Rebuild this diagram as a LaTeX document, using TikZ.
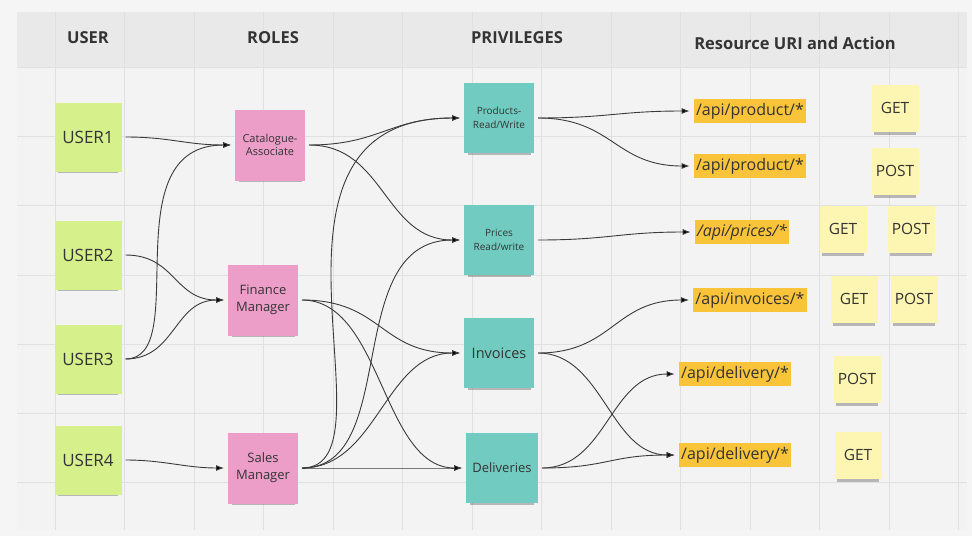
\documentclass[tikz,border=0pt]{standalone}
\usepackage{xcolor}
\usepackage{fontspec}
\setmainfont{Open Sans}
\usetikzlibrary{positioning,arrows.meta,shadows}

\definecolor{board}{HTML}{F3F3F3}
\definecolor{headband}{HTML}{E9E9E9}
\definecolor{gridgray}{HTML}{E0E0E0}
\definecolor{lime}{HTML}{D6F08C}
\definecolor{rose}{HTML}{EC9DC8}
\definecolor{tealnote}{HTML}{72CBC0}
\definecolor{amber}{HTML}{F9C33A}
\definecolor{paleyel}{HTML}{FDF5B2}
\definecolor{ink}{HTML}{343434}
\definecolor{wire}{HTML}{3A3A3A}

\tikzset{
  note/.style={inner sep=2pt, align=center, text=ink, outer sep=4pt,
    drop shadow={shadow xshift=0pt, shadow yshift=-6pt, shadow scale=0.9, opacity=0.25, fill=black}},
  user/.style={note, fill=lime, minimum width=67pt, minimum height=69pt, font=\fontsize{17}{19}\selectfont},
  role/.style={note, fill=rose, minimum width=70pt, minimum height=71pt},
  priv/.style={note, fill=tealnote, minimum width=70pt, minimum height=70pt},
  verb/.style={note, fill=paleyel, minimum width=47pt, minimum height=47pt, font=\fontsize{15.5}{17}\selectfont},
  uri/.style={fill=amber, inner xsep=2.5pt, inner ysep=4pt, outer sep=4pt, text=ink, font=\fontsize{16}{18}\selectfont},
  head/.style={text=ink, font=\bfseries\fontsize{16.5}{18}\selectfont},
  link/.style={draw=wire, line width=0.9pt, -{Latex[length=8pt,width=6pt]}, out=0, in=180},
}

\begin{document}
\begin{tikzpicture}[x=1pt, y=-1pt]
  \useasboundingbox (0,0) rectangle (972,536);
  % board and grid
  \fill[white!96!black] (0,0) rectangle (972,536);
  \fill[board] (17,12) rectangle (967,530);
  \fill[headband] (17,12) rectangle (967,67);
  \foreach \x in {0,...,13}
    \draw[gridgray, line width=0.8pt] (55+69.5*\x,12) -- (55+69.5*\x,530);
  \foreach \y in {0,...,6}
    \draw[gridgray, line width=0.8pt] (17,67+69.3*\y) -- (967,67+69.3*\y);

  % column heads
  \node[head] (h1) at (88,38) {USER};
  \node[head] (h2) at (273,38) {ROLES};
  \node[head] (h3) at (517,38) {PRIVILEGES};
  \node[head] (h4) at (795,43) {Resource URI and Action};

  % users
  \node[user] (u1) at (88,137) {USER1};
  \node[user] (u2) at (88,255) {USER2};
  \node[user] (u3) at (88,359) {USER3};
  \node[user] (u4) at (88,460) {USER4};

  % roles
  \node[role, font=\fontsize{11}{13.5}\selectfont] (ca) at (270,145) {Catalogue-\\Associate};
  \node[role, font=\fontsize{13}{17}\selectfont] (fm) at (263,300) {Finance\\Manager};
  \node[role, font=\fontsize{13}{17}\selectfont] (sm) at (263,468) {Sales\\Manager};

  % privileges
  \node[priv, font=\fontsize{10}{14}\selectfont] (pr) at (499,118) {Products-\\Read/Write};
  \node[priv, font=\fontsize{10}{14}\selectfont] (pc) at (499,240) {Prices\\Read/write};
  \node[priv, font=\fontsize{14.5}{17}\selectfont] (iv) at (499,353) {Invoices};
  \node[priv, minimum width=72pt, font=\fontsize{13}{16}\selectfont] (dl) at (502,468) {Deliveries};

  % resources
  \node[uri] (a1) at (750,111) {/api/product/*};
  \node[uri] (a2) at (750,166) {/api/product/*};
  \node[uri] (a3) at (742,232) {\itshape /api/prices/*};
  \node[uri] (a4) at (750,300) {/api/invoices/*};
  \node[uri] (a5) at (735,374) {/api/delivery/*};
  \node[uri] (a6) at (735,455) {/api/delivery/*};

  % actions
  \node[verb] (v1) at (895,108) {GET};
  \node[verb] (v2) at (895,171) {POST};
  \node[verb] (v3) at (843,229) {GET};
  \node[verb] (v4) at (911,229) {POST};
  \node[verb] (v5) at (854,299) {GET};
  \node[verb] (v6) at (914,299) {POST};
  \node[verb] (v7) at (857,379) {POST};
  \node[verb] (v8) at (858,455) {GET};

  \draw[link]
  (u1) edge[distance=45pt] (ca)
  (u2) edge[distance=50pt] (fm)
  (u3) edge[out distance=68pt, in distance=121pt] (ca)
  (u3) edge[distance=50pt] (fm)
  (u4) edge (sm)
  (ca) edge[distance=70pt] (pr)
  (ca) edge[distance=76pt] (pc)
  (fm) edge[distance=80pt] (iv)
  (fm) edge[distance=80pt] (dl)
  (sm) edge[out distance=100pt, in distance=230pt] (pr)
  (sm) edge[out distance=100pt, in distance=120pt] (pc)
  (sm) edge[distance=75pt] (iv)
  (sm) edge (dl)
  (pr) edge[distance=70pt] (a1)
  (pr) edge[distance=75pt] (a2)
  (pc) edge[distance=70pt] (a3)
  (iv) edge[distance=75pt] (a4)
  (iv) edge[distance=65pt] (a6)
  (dl) edge[distance=65pt] (a5)
  (dl) edge[distance=65pt] (a6);
\end{tikzpicture}
\end{document}
